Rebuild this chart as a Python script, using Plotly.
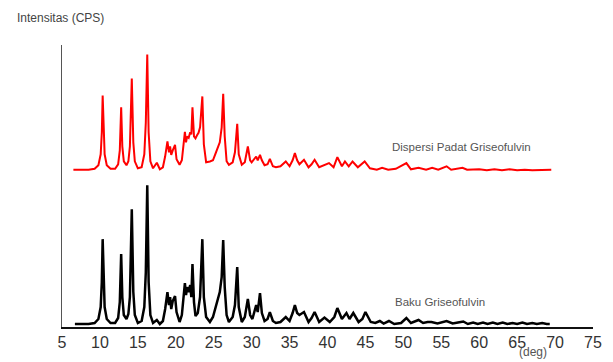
import plotly.graph_objects as go

# 2-theta (deg) and intensity
baku_x = [6.7, 8.5, 9.3, 9.8, 10.1, 10.25, 10.36, 10.47, 10.62, 10.9, 11.4, 12.0, 12.4, 12.62, 12.8, 12.95, 13.15, 13.5,
          13.75, 13.95, 14.2, 14.4, 14.6, 15.0, 15.5, 15.85, 16.05, 16.24, 16.42, 16.65, 17.0, 17.5, 17.9, 18.3, 18.6,
          18.9, 19.1, 19.25, 19.4, 19.6, 19.9, 20.1, 20.5, 20.8, 21.0, 21.2, 21.35, 21.5, 21.7, 21.9, 22.05, 22.2, 22.4,
          22.6, 22.9, 23.2, 23.5, 23.7, 24.0, 24.5, 24.9, 25.2, 25.5, 25.8, 26.05, 26.25, 26.45, 26.7, 27.0, 27.5, 27.8,
          28.1, 28.3, 28.7, 29.1, 29.5, 29.8, 30.1, 30.6, 30.8, 31.1, 31.35, 31.7, 32.1, 32.4, 32.8, 33.2, 33.8, 34.5,
          35.0, 35.4, 35.7, 36.0, 36.3, 36.9, 37.5, 37.9, 38.3, 38.9, 39.6, 40.3, 40.9, 41.3, 41.9, 42.5, 42.9, 43.4,
          44.1, 44.6, 45.0, 45.7, 46.3, 46.9, 47.4, 48.1, 48.8, 49.7, 50.4, 51.0, 52.0, 52.6, 53.2, 53.7, 54.5, 55.7,
          56.5, 57.2, 57.9, 58.5, 59.2, 59.8, 60.5, 61.1, 61.8, 62.4, 63.1, 63.7, 64.4, 65.0, 65.7, 66.3, 67.0, 67.6,
          68.3, 68.9, 69.3]
baku_y = [3, 3, 4, 8, 20, 45, 88, 45, 20, 8, 4, 4, 9, 25, 73, 30, 12, 8,
          13, 30, 118, 35, 12, 4, 6, 20, 55, 142, 45, 12, 4, 7, 3, 6, 18,
          35, 22, 30, 18, 26, 31, 15, 5, 12, 30, 44, 32, 40, 35, 42, 30, 63, 25,
          11, 14, 30, 88, 30, 10, 5, 10, 18, 27, 35, 50, 87, 40, 12, 5, 10, 22,
          60, 20, 5, 10, 28, 12, 8, 22, 15, 34, 14, 6, 8, 15, 6, 4, 5, 10,
          6, 14, 22, 14, 12, 15, 5, 9, 15, 5, 9.5, 5, 10, 19, 8, 14, 8, 14,
          5, 8, 15, 5, 4, 6, 3.5, 6, 3, 4, 9, 4, 7, 4, 5, 5, 3.5, 6,
          3.5, 4.5, 5.5, 3, 4.5, 3, 4.5, 3, 4.5, 3, 4.5, 3, 4, 3, 4.5, 3, 4, 3,
          4, 3, 3]

dispersi_x = [6.5, 8.5, 9.3, 9.8, 10.1, 10.25, 10.36, 10.47, 10.62, 10.9, 11.4, 12.0, 12.4, 12.62, 12.8, 12.95, 13.15,
              13.5, 13.75, 13.95, 14.2, 14.4, 14.6, 15.0, 15.5, 15.85, 16.05, 16.24, 16.42, 16.65, 17.0, 17.5, 17.9,
              18.3, 18.6, 18.9, 19.1, 19.25, 19.4, 19.6, 19.9, 20.1, 20.5, 20.8, 21.0, 21.2, 21.35, 21.5, 21.7, 21.9,
              22.05, 22.2, 22.4, 22.6, 22.8, 23.0, 23.2, 23.5, 23.7, 24.0, 24.5, 24.9, 25.2, 25.5, 25.8, 26.05, 26.25,
              26.45, 26.7, 27.0, 27.5, 27.8, 28.1, 28.3, 28.7, 29.1, 29.5, 29.8, 30.0, 30.6, 30.8, 31.1, 31.35, 31.7,
              32.1, 32.4, 32.8, 33.2, 33.8, 34.5, 35.0, 35.4, 35.7, 36.0, 36.3, 36.9, 37.5, 37.9, 38.3, 38.9, 39.5,
              40.2, 40.8, 41.3, 41.9, 42.3, 42.8, 43.3, 44.0, 44.9, 45.6, 46.5, 47.2, 48.0, 49.0, 50.4, 51.0, 52.0,
              53.0, 53.8, 54.6, 55.7, 56.3, 57.8, 58.4, 60.0, 61.0, 62.0, 63.0, 64.0, 65.0, 66.0, 67.0, 68.0, 69.5]
dispersi_y = [2.5, 2.5, 3.5, 7, 18, 40, 77, 40, 18, 7, 3.5, 3.5, 8, 22, 65, 26, 11,
              7, 11, 26, 94, 30, 11, 4, 5, 18, 50, 118, 40, 11, 4, 9.5, 3,
              5, 16, 31, 20, 26, 17.5, 22, 27.5, 13, 7.5, 12, 28, 40.5, 30, 36, 34.5, 40,
              38, 65, 36, 34, 37, 39.5, 45, 76, 28, 10, 10.8, 12, 18, 24.5, 30, 45, 78.5,
              36, 11, 7.5, 10, 20, 48.5, 18, 7.5, 10, 25.8, 12, 10, 15.8, 12, 17.5, 12, 7,
              8, 13.5, 6, 5, 6, 10.8, 6, 12, 19.2, 12, 8, 12.5, 5, 8, 12.5, 5, 7,
              9.2, 5, 15.2, 6, 10.8, 6, 10.8, 5, 10.8, 4, 2.5, 4.5, 2.5, 3.5, 9.2, 3, 4.5,
              2.5, 4.5, 2.5, 6, 2.5, 4.5, 2.5, 3, 2, 3, 2, 3, 2, 2.5, 2, 2, 2.5]

x_ticks = [5, 10, 15, 20, 25, 30, 35, 40, 45, 50, 55, 60, 65, 70, 75]
dispersi_offset = 155

fig = go.Figure()
fig.add_trace(go.Scatter(x=dispersi_x, y=[v + dispersi_offset for v in dispersi_y], mode="lines",
                         line=dict(color="#ff0000", width=2), name="Dispersi Padat Griseofulvin",
                         showlegend=False))
fig.add_trace(go.Scatter(x=baku_x, y=baku_y, mode="lines",
                         line=dict(color="#000000", width=2.5), name="Baku Griseofulvin",
                         showlegend=False))

fig.update_layout(
    width=605, height=354, autosize=False,
    margin=dict(l=54, r=20, t=37, b=34.5, pad=0),
    paper_bgcolor="white", plot_bgcolor="white",
    font=dict(family="Liberation Sans, Arial, sans-serif", color="#333333"),
    xaxis=dict(range=[5, 75], tickvals=x_ticks, ticktext=[str(t) for t in x_ticks],
               showline=True, linecolor="#111111", linewidth=2, showgrid=False, zeroline=False,
               ticks="", tickfont=dict(size=16, color="#333333")),
    yaxis=dict(range=[0, 282.5], showticklabels=False, showline=True, linecolor="#555555",
               linewidth=1, showgrid=False, zeroline=False, ticks=""),
    annotations=[
        dict(text="Intensitas (CPS)", xref="paper", yref="paper", x=-0.0885, y=1.0956,
             xanchor="left", yanchor="middle", showarrow=False, font=dict(size=12, color="#444444")),
        dict(text="Dispersi Padat Griseofulvin", xref="x", yref="y", x=48.2, y=180.8,
             xanchor="left", yanchor="middle", showarrow=False, font=dict(size=11.5, color="#555555")),
        dict(text="Baku Griseofulvin", xref="x", yref="y", x=48.6, y=24.8,
             xanchor="left", yanchor="middle", showarrow=False, font=dict(size=11.5, color="#555555")),
        dict(text="(deg)", xref="x", yref="paper", x=67.06, y=-0.09,
             xanchor="center", yanchor="middle", showarrow=False, font=dict(size=12, color="#555555")),
    ],
)

fig.write_html("out.html")
